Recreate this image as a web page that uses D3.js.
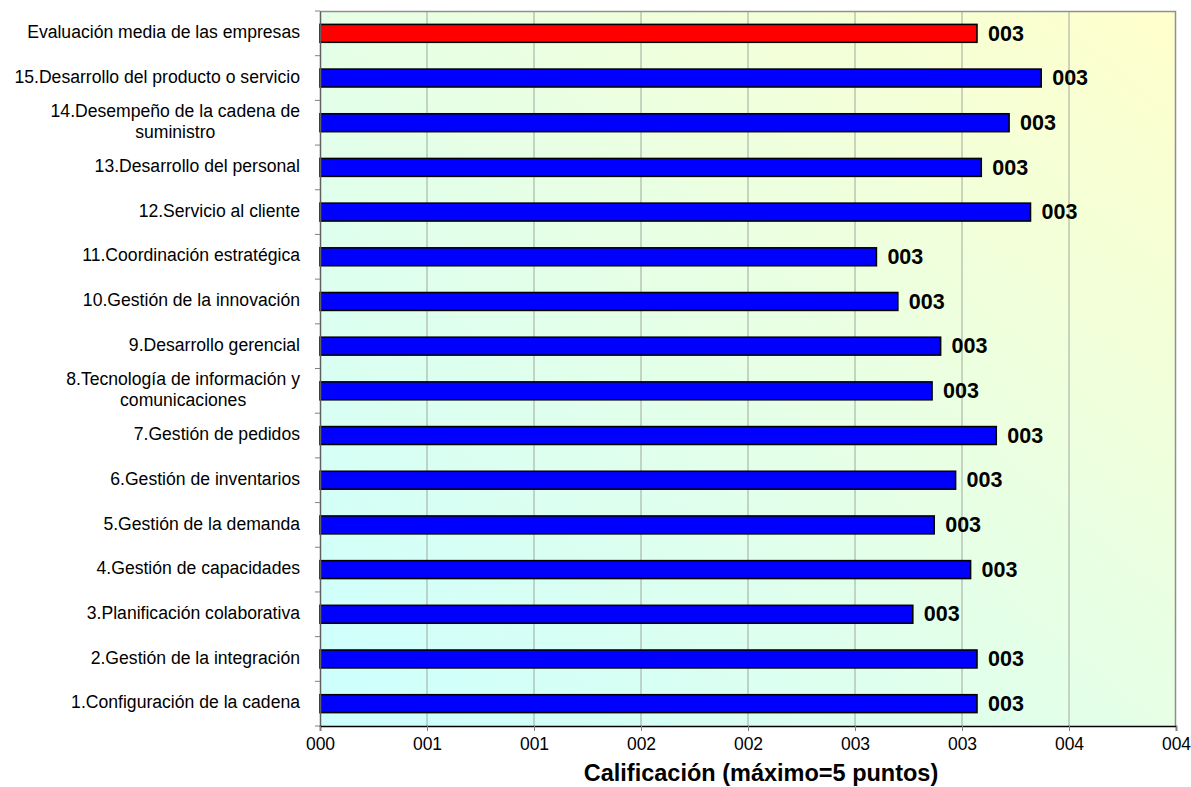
<!DOCTYPE html>
<html><head><meta charset="utf-8">
<script src="https://cdn.jsdelivr.net/npm/d3@7"></script>
<style>body{margin:0;background:#fff;} svg{display:block;}</style>
</head><body>
<svg id="chart" width="1191" height="787"></svg>
<script>
const categories = [
  "Evaluación media de las empresas",
  "15.Desarrollo del producto o servicio",
  "14.Desempeño de la cadena de\nsuministro",
  "13.Desarrollo del personal",
  "12.Servicio al cliente",
  "11.Coordinación estratégica",
  "10.Gestión de la innovación",
  "9.Desarrollo gerencial",
  "8.Tecnología de información y\ncomunicaciones",
  "7.Gestión de pedidos",
  "6.Gestión de inventarios",
  "5.Gestión de la demanda",
  "4.Gestión de capacidades",
  "3.Planificación colaborativa",
  "2.Gestión de la integración",
  "1.Configuración de la cadena"
];
const values = [3.07, 3.37, 3.22, 3.09, 3.32, 2.60, 2.70, 2.90, 2.86, 3.16, 2.97, 2.87, 3.04, 2.77, 3.07, 3.07];
const xTicks = [0, 0.5, 1, 1.5, 2, 2.5, 3, 3.5, 4];
const xTitle = "Calificación (máximo=5 puntos)";

const FONT = "'Liberation Sans', Arial, sans-serif";
const svg = d3.select("#chart");
const m = {left: 320, top: 11, right: 1176, bottom: 726};
const W = m.right - m.left, H = m.bottom - m.top;

const defs = svg.append("defs");
const grad = defs.append("linearGradient").attr("id", "bg")
  .attr("x1", "0").attr("y1", "1").attr("x2", "1").attr("y2", "0");
grad.append("stop").attr("offset", "0%").attr("stop-color", "#ccffff");
grad.append("stop").attr("offset", "50%").attr("stop-color", "#e6ffe6");
grad.append("stop").attr("offset", "100%").attr("stop-color", "#ffffcc");

const x = d3.scaleLinear().domain([0, 4]).range([m.left, m.right]);
const yb = d3.scaleBand().domain(categories).range([m.top, m.bottom]);

svg.append("rect").attr("x", m.left).attr("y", m.top).attr("width", W).attr("height", H)
  .attr("fill", "url(#bg)");

// gridlines
svg.append("g").selectAll("line").data(xTicks.slice(1, -1)).join("line")
  .attr("x1", d => x(d)).attr("x2", d => x(d))
  .attr("y1", m.top).attr("y2", m.bottom)
  .attr("stroke", "#a0a8a0").attr("stroke-width", 1);

// plot border top/right
svg.append("path")
  .attr("d", `M${m.left},${m.top + 0.5}H${m.right - 0.5}V${m.bottom}`)
  .attr("fill", "none").attr("stroke", "#909090").attr("stroke-width", 1.5);

// bars
const bh = yb.bandwidth() * 0.4;
svg.append("g").selectAll("rect").data(categories).join("rect")
  .attr("x", x(0))
  .attr("y", d => yb(d) + yb.bandwidth() / 2 - bh / 2)
  .attr("width", (d, i) => x(values[i]) - x(0))
  .attr("height", bh)
  .attr("fill", (d, i) => i === 0 ? "#ff0000" : "#0000ff")
  .attr("stroke", "#000").attr("stroke-width", 1.6);

// value labels
svg.append("g").selectAll("text").data(categories).join("text")
  .attr("x", (d, i) => x(values[i]) + 11)
  .attr("y", d => yb(d) + yb.bandwidth() / 2 + 1.5)
  .attr("dominant-baseline", "middle")
  .attr("font-family", FONT)
  .attr("font-weight", "bold").attr("font-size", 21.5)
  .attr("fill", "#000")
  .text((d, i) => d3.format("03d")(Math.round(values[i])));

// y axis
const yAxis = d3.axisLeft(yb).tickSize(0).tickFormat("");
const gy = svg.append("g").attr("transform", `translate(${m.left},0)`).call(yAxis);
gy.select(".domain").attr("stroke", "#606060").attr("stroke-width", 1.5);
// category boundary ticks
svg.append("g").selectAll("line").data(d3.range(categories.length + 1)).join("line")
  .attr("x1", m.left - 5).attr("x2", m.left)
  .attr("y1", i => m.top + i * yb.step()).attr("y2", i => m.top + i * yb.step())
  .attr("stroke", "#808080").attr("stroke-width", 1);

// category labels
const lab = svg.append("g").selectAll("text").data(categories).join("text")
  .attr("font-family", FONT)
  .attr("font-size", 17.6).attr("fill", "#000")
  .attr("text-anchor", "end");
lab.each(function(d) {
  const lines = d.split("\n");
  const t = d3.select(this);
  const cy = yb(d) + yb.bandwidth() / 2;
  const lh = 20.5;
  if (lines.length === 1) {
    t.attr("x", 300).attr("y", cy).attr("dominant-baseline", "middle").text(d);
  } else {
    t.attr("text-anchor", "middle");
    const spans = lines.map((ln, k) => t.append("tspan").attr("x", 0)
      .attr("y", cy + (k - (lines.length - 1) / 2) * lh)
      .attr("dominant-baseline", "middle").text(ln));
    const w = d3.max(spans, s => s.node().getComputedTextLength());
    spans.forEach(s => s.attr("x", 300 - w / 2));
  }
});

// x axis
const xAxis = d3.axisBottom(x).tickValues(xTicks).tickSize(5).tickPadding(7)
  .tickFormat(d => d3.format("03d")(Math.round(d + 1e-9)));
const gx = svg.append("g").attr("transform", `translate(0,${m.bottom})`).call(xAxis);
gx.select(".domain").attr("stroke", "#000").attr("stroke-width", 1.5);
gx.selectAll(".tick line").attr("stroke", "#808080");
gx.selectAll("text").attr("font-family", FONT)
  .attr("font-size", 17.5).attr("fill", "#000");

svg.append("text").attr("x", 761).attr("y", 781)
  .attr("text-anchor", "middle")
  .attr("font-family", FONT)
  .attr("font-weight", "bold").attr("font-size", 23.5).attr("fill", "#000")
  .text(xTitle);
</script>
</body></html>
